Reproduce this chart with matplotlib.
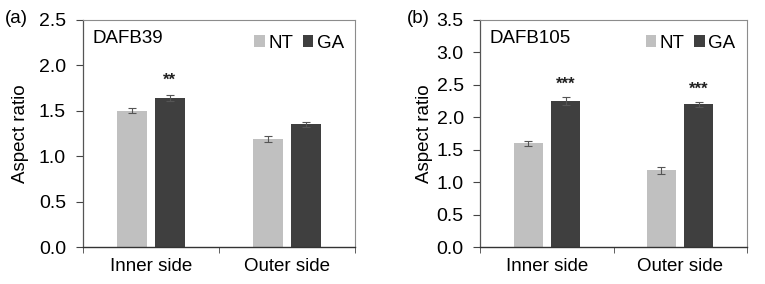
import matplotlib
matplotlib.use("Agg")
import matplotlib.pyplot as plt
import numpy as np

plt.rcParams['font.family'] = ['Liberation Sans', 'DejaVu Sans']

categories = ["Inner side", "Outer side"]
series = ["NT", "GA"]

a_nt = [1.50, 1.19]
a_nt_err = [0.03, 0.03]
a_ga = [1.64, 1.35]
a_ga_err = [0.03, 0.03]
a_sig = ["**", ""]

b_nt = [1.60, 1.18]
b_nt_err = [0.04, 0.05]
b_ga = [2.25, 2.20]
b_ga_err = [0.06, 0.04]
b_sig = ["***", "***"]

NT_COLOR = "#c0c0c0"
GA_COLOR = "#3f3f3f"
SPINE = "#8c8c8c"
FS = 13.5

fig = plt.figure(figsize=(7.65, 2.84), dpi=100)
ax_a = fig.add_axes([0.108, 0.130, 0.356, 0.800])
ax_b = fig.add_axes([0.628, 0.130, 0.348, 0.800])


def draw(ax, nt, nterr, ga, gaerr, sig, ymax, name, label, labelx, ylx):
    x = np.arange(len(categories))
    w = 0.22
    off = 0.14
    ax.bar(x - off, nt, w, color=NT_COLOR, label=series[0], zorder=2)
    ax.bar(x + off, ga, w, color=GA_COLOR, label=series[1], zorder=2)
    ek = dict(ecolor="#555555", elinewidth=0.8, capsize=3, capthick=0.8, fmt="none", zorder=3)
    ax.errorbar(x - off, nt, yerr=nterr, **ek)
    ax.errorbar(x + off, ga, yerr=gaerr, **ek)
    for i, s in enumerate(sig):
        if s:
            ax.text(x[i] + off, ga[i] + gaerr[i] + 0.08, s, ha="center", va="bottom",
                    fontsize=12, fontweight="bold", color="#222222")
    ax.set_xlim(-0.5, 1.5)
    ax.set_ylim(0, ymax)
    yt = np.arange(0, ymax + 0.01, 0.5)
    ax.set_yticks(yt)
    ax.set_yticklabels([f"{v:.1f}" for v in yt], fontsize=14)
    ax.set_xticks(x)
    ax.set_xticklabels(categories, fontsize=FS)
    ax.tick_params(axis="x", length=0, pad=8)
    ax.set_xticks([-0.5, 0.5, 1.5], minor=True)
    ax.tick_params(axis="x", which="minor", length=4, direction="out", color="#444444")
    ax.tick_params(axis="y", length=5, direction="out", color="#444444", pad=7)
    ax.set_ylabel("Aspect ratio", fontsize=FS)
    ax.yaxis.set_label_coords(ylx, 0.5)
    for sp in ["top", "right"]:
        ax.spines[sp].set_color(SPINE)
        ax.spines[sp].set_linewidth(0.8)
    ax.spines["left"].set_color("#555555")
    ax.spines["left"].set_linewidth(0.9)
    ax.spines["bottom"].set_color("#333333")
    ax.spines["bottom"].set_linewidth(1.0)
    ax.text(0.035, 0.955, name, transform=ax.transAxes, ha="left", va="top", fontsize=FS)
    ax.legend(loc="upper right", ncol=2, frameon=False, fontsize=FS,
              handlelength=0.55, handleheight=0.55, handletextpad=0.2,
              columnspacing=0.5, borderaxespad=0.2, bbox_to_anchor=(1.0, 0.985))
    fig.text(labelx, 0.935, label, ha="left", va="center", fontsize=FS)


draw(ax_a, a_nt, a_nt_err, a_ga, a_ga_err, a_sig, 2.5, "DAFB39", "(a)", 0.006, -0.198)
draw(ax_b, b_nt, b_nt_err, b_ga, b_ga_err, b_sig, 3.5, "DAFB105", "(b)", 0.532, -0.178)

fig.savefig("out.png", dpi=100)
